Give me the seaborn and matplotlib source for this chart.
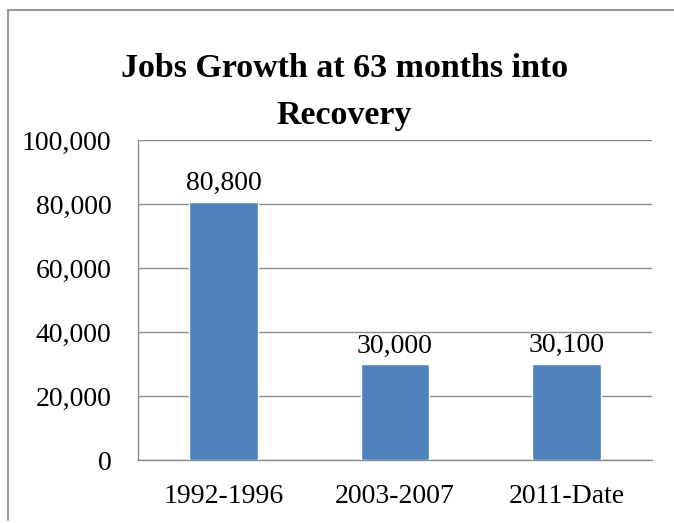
import matplotlib
matplotlib.use("Agg")
import matplotlib.pyplot as plt
from matplotlib.lines import Line2D
from matplotlib.ticker import FuncFormatter
import seaborn as sns
import pandas as pd

periods = ["1992-1996", "2003-2007", "2011-Date"]
jobs = [80800, 30000, 30100]
y_ticks = [0, 20000, 40000, 60000, 80000, 100000]
title = "Jobs Growth at 63 months into\nRecovery"

sns.set_theme(style="white")
plt.rcParams["font.family"] = ["Liberation Serif", "DejaVu Serif"]
plt.rcParams["text.color"] = "black"
plt.rcParams["xtick.color"] = "black"
plt.rcParams["ytick.color"] = "black"

W, H = 674, 523
df = pd.DataFrame({"period": periods, "jobs": jobs})

fig = plt.figure(figsize=(W / 100, H / 100), dpi=100)
ax = fig.add_axes([138 / W, 1 - 460 / H, (652 - 138) / W, (460 - 140.5) / H])

sns.barplot(data=df, x="period", y="jobs", color="#4F81BD", saturation=1,
            width=0.40, ax=ax, zorder=3)

ax.set_ylim(0, 100000)
ax.set_yticks(y_ticks)
ax.yaxis.set_major_formatter(FuncFormatter(lambda v, p: f"{int(v):,}"))
ax.grid(axis="y", color="#8c8c8c", linewidth=1, zorder=0)
ax.set_axisbelow(True)
ax.set_xlabel("")
ax.set_ylabel("")
ax.tick_params(axis="both", labelsize=20, length=0)
ax.tick_params(axis="y", pad=19)
ax.tick_params(axis="x", pad=17)

for side in ["top", "right"]:
    ax.spines[side].set_visible(False)
for side in ["left", "bottom"]:
    ax.spines[side].set_color("#8c8c8c")
    ax.spines[side].set_linewidth(1)

for cont in ax.containers:
    ax.bar_label(cont, labels=[f"{v:,}" for v in jobs], fontsize=20, padding=4)

fig.text(344.5 / W, 1 - 92 / H, title, ha="center", va="center",
         fontsize=24.5, fontweight="bold", linespacing=1.64)

# outer chart frame: top and left edges
frame_kw = dict(transform=fig.transFigure, color="#999999", linewidth=1.5)
fig.add_artist(Line2D([8 / W, 1.0], [1 - 9.5 / H, 1 - 9.5 / H], **frame_kw))
fig.add_artist(Line2D([8 / W, 8 / W], [1 - 9.5 / H, 1 - 520 / H], **frame_kw))

fig.savefig("out.png", dpi=100)
